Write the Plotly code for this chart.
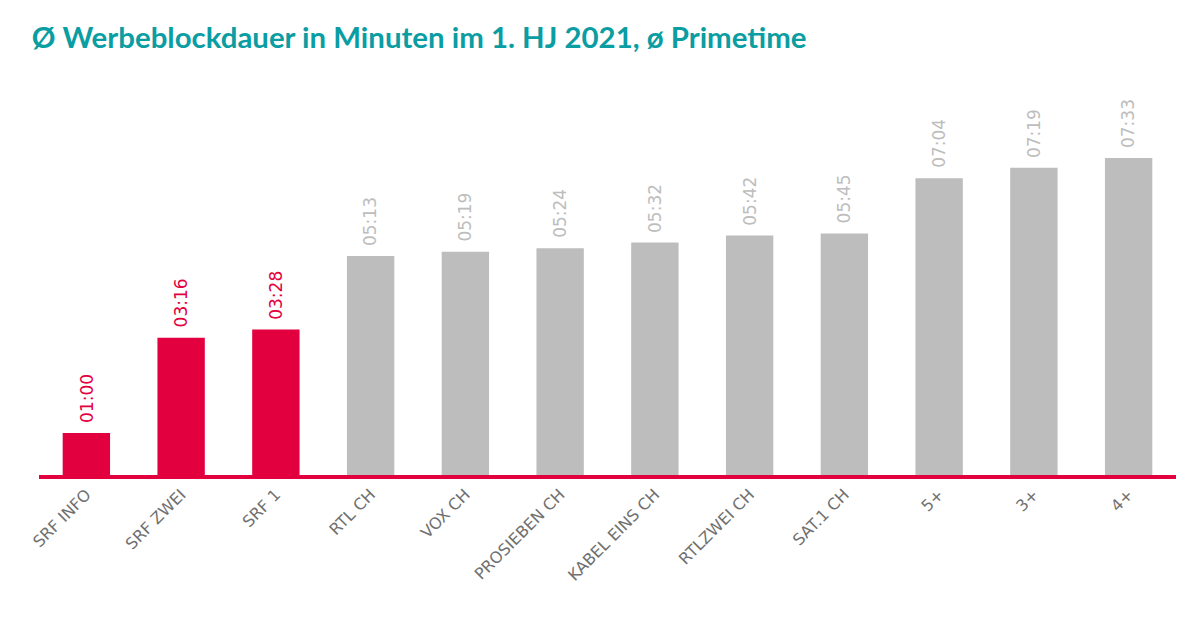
import plotly.graph_objects as go

channels = ["SRF INFO", "SRF ZWEI", "SRF 1", "RTL CH", "VOX CH", "PROSIEBEN CH",
            "KABEL EINS CH", "RTLZWEI CH", "SAT.1 CH", "5+", "3+", "4+"]
seconds = [60, 196, 208, 313, 319, 324, 332, 342, 345, 424, 439, 453]
is_srf = [True, True, True, False, False, False, False, False, False, False, False, False]

RED = "#E2003F"
GREY = "#BDBDBD"
colors = [RED if s else GREY for s in is_srf]
labels = [f"{v // 60:02d}:{v % 60:02d}" for v in seconds]

fig = go.Figure()
fig.add_trace(go.Bar(
    x=channels, y=seconds, marker_color=colors, marker_line_width=0,
    width=0.5, hoverinfo="skip",
))

for c, v, lab, col in zip(channels, seconds, labels, colors):
    fig.add_annotation(
        x=c, y=v, text=lab, textangle=-90, showarrow=False,
        xanchor="center", yanchor="bottom", yshift=8,
        font=dict(family="DejaVu Sans", size=17, color=col),
    )

fig.update_layout(
    width=1192, height=613,
    margin=dict(l=31, r=24, t=82, b=146, autoexpand=False),
    paper_bgcolor="white", plot_bgcolor="white",
    showlegend=False,
    title=dict(
        text="<b>Ø Werbeblockdauer in Minuten im 1. HJ 2021, ø Primetime</b>",
        x=0.02, xanchor="left", y=0.951, yanchor="middle",
        font=dict(family="Lato", size=29.4, color="#0A9DA2"),
    ),
    xaxis=dict(
        tickangle=-45, showgrid=False, showline=True, linecolor=RED, linewidth=4,
        ticks="", tickfont=dict(family="DejaVu Sans", size=16, color="#707070"),
        range=[-0.5, 11.5], automargin=False,
    ),
    yaxis=dict(range=[0, 550], visible=False, showgrid=False, zeroline=False,
               automargin=False),
)

fig.write_html("out.html")
